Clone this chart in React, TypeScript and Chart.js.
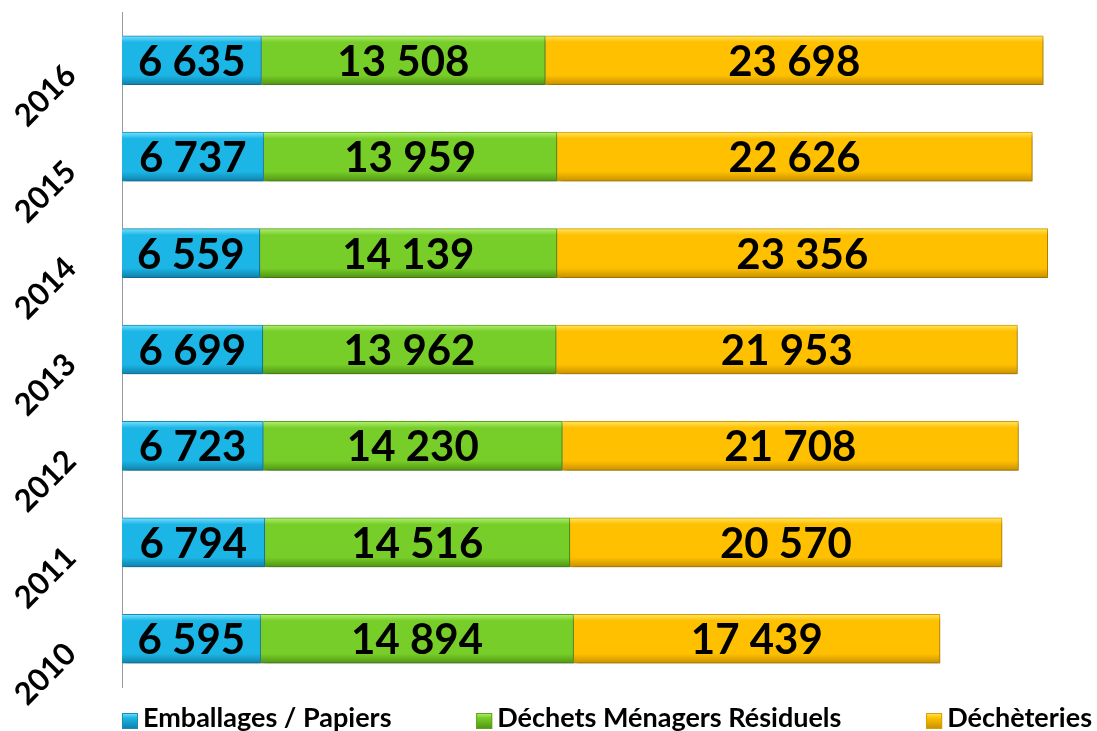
import React, { useEffect, useRef } from "react";
import { Chart, registerables } from "chart.js";

Chart.register(...registerables);

const years = ["2016", "2015", "2014", "2013", "2012", "2011", "2010"];
const emballages = [6635, 6737, 6559, 6699, 6723, 6794, 6595];
const dechetsMenagers = [13508, 13959, 14139, 13962, 14230, 14516, 14894];
const decheteries = [23698, 22626, 23356, 21953, 21708, 20570, 17439];
const seriesNames = ["Emballages / Papiers", "Déchets Ménagers Résiduels", "Déchèteries"];

const palette = [
  { light: "#7FE3FF", base: "#1CB6E6", dark: "#0E7FA8", border: "#1490BB" },
  { light: "#B6F27A", base: "#78CE28", dark: "#4E9313", border: "#5CA51B" },
  { light: "#FFE86A", base: "#FFC000", dark: "#C68F00", border: "#D9A000" },
];

const FONT = "Lato, 'Open Sans', 'DejaVu Sans', sans-serif";

const fmt = (n: number) => n.toString().replace(/\B(?=(\d{3})+(?!\d))/g, " ");

function fillFor(i: number) {
  return (ctx: any) => {
    const chart = ctx.chart;
    const yScale = chart.scales?.y;
    if (!yScale || ctx.dataIndex === undefined) return palette[i].base;
    const yc = yScale.getPixelForValue(ctx.dataIndex);
    if (!Number.isFinite(yc)) return palette[i].base;
    const g = chart.ctx.createLinearGradient(0, yc - 25, 0, yc + 25);
    g.addColorStop(0, palette[i].light);
    g.addColorStop(0.14, palette[i].base);
    g.addColorStop(0.8, palette[i].base);
    g.addColorStop(1, palette[i].dark);
    return g;
  };
}

const shadowPlugin = {
  id: "barShadow",
  beforeDatasetsDraw(chart: any) {
    const c = chart.ctx;
    c.save();
    c.shadowColor = "rgba(0,0,0,0.35)";
    c.shadowBlur = 5;
    c.shadowOffsetX = 2;
    c.shadowOffsetY = 3;
  },
  afterDatasetsDraw(chart: any) {
    chart.ctx.restore();
  },
};

const valueLabelPlugin = {
  id: "valueLabels",
  afterDatasetsDraw(chart: any) {
    const c = chart.ctx;
    c.save();
    c.shadowColor = "transparent";
    c.fillStyle = "#000";
    c.font = `bold 42px ${FONT}`;
    c.textAlign = "center";
    c.textBaseline = "middle";
    chart.data.datasets.forEach((ds: any, di: number) => {
      const meta = chart.getDatasetMeta(di);
      meta.data.forEach((el: any, i: number) => {
        const x = (el.x + el.base) / 2;
        c.fillText(fmt(ds.data[i]), x, el.y + 2);
      });
    });
    c.restore();
  },
};

const legendPlugin = {
  id: "customLegend",
  afterDraw(chart: any) {
    const c = chart.ctx;
    c.save();
    c.font = `bold 27px ${FONT}`;
    c.textBaseline = "middle";
    c.textAlign = "left";
    const box = 16;
    const gap = 5;
    const ds = chart.data.datasets;
    const widths = ds.map((d: any) => box + gap + c.measureText(d.label).width);
    const startX = 122;
    const endX = 1092;
    const total = widths.reduce((a: number, b: number) => a + b, 0);
    const between = (endX - startX - total) / (ds.length - 1);
    const y = 718;
    let x = startX;
    ds.forEach((d: any, i: number) => {
      const by = 713;
      const g = c.createLinearGradient(0, by, 0, by + box);
      g.addColorStop(0, palette[i].light);
      g.addColorStop(0.3, palette[i].base);
      g.addColorStop(1, palette[i].dark);
      c.fillStyle = g;
      c.fillRect(x, by, box, box);
      c.strokeStyle = palette[i].border;
      c.lineWidth = 1;
      c.strokeRect(x + 0.5, by + 0.5, box - 1, box - 1);
      c.fillStyle = "#000";
      c.fillText(d.label, x + box + gap, y);
      x += widths[i] + between;
    });
    c.restore();
  },
};

export default function App() {
  const ref = useRef<HTMLCanvasElement | null>(null);

  useEffect(() => {
    if (!ref.current) return;
    const seriesData = [emballages, dechetsMenagers, decheteries];
    const chart = new Chart(ref.current, {
      type: "bar",
      data: {
        labels: years,
        datasets: seriesData.map((data, i) => ({
          label: seriesNames[i],
          data,
          backgroundColor: fillFor(i),
          borderColor: palette[i].border,
          borderWidth: 1,
          barThickness: 49,
        })),
      },
      options: {
        indexAxis: "y",
        animation: false,
        responsive: false,
        layout: { padding: { top: 12, bottom: 44, left: 0, right: 0 } },
        plugins: {
          legend: { display: false },
          tooltip: { enabled: false },
        },
        scales: {
          x: {
            stacked: true,
            min: 0,
            max: 46400,
            display: false,
          },
          y: {
            stacked: true,
            grid: { display: false },
            border: { display: true, color: "#9a9a9a", width: 1 },
            afterFit: (scale: any) => {
              scale.width = 122;
              scale.paddingTop = 0;
              scale.paddingBottom = 0;
            },
            ticks: {
              color: "#000",
              font: { family: FONT, size: 31, weight: "bold" },
              minRotation: 45,
              maxRotation: 45,
              padding: 43,
              labelOffset: 10,
            },
          },
        },
      } as any,
      plugins: [shadowPlugin, valueLabelPlugin, legendPlugin],
    });
    return () => chart.destroy();
  }, []);

  return (
    <div style={{ position: "fixed", left: 0, top: 0, width: 1097, height: 731, background: "#fff" }}>
      <canvas ref={ref} width={1097} height={731} style={{ display: "block" }} />
    </div>
  );
}
